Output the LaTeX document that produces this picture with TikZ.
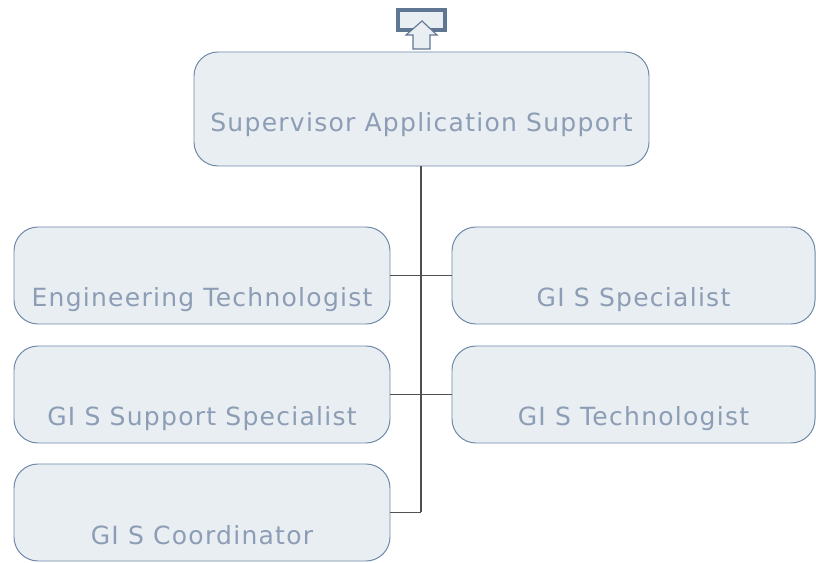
\documentclass[tikz,border=0pt]{standalone}
\usepackage{fontspec}
\setmainfont{DejaVu Sans}[LetterSpace=5]
\usepackage{tikz}
\usetikzlibrary{positioning}
\definecolor{boxfill}{HTML}{E9EEF2}
\definecolor{boxline}{HTML}{6E88A8}
\definecolor{boxtext}{HTML}{8C9DB5}
\definecolor{iconline}{HTML}{5F7693}
\definecolor{connline}{HTML}{505050}

\begin{document}
\begin{tikzpicture}[x=0.025cm,y=-0.025cm,>=stealth,
	role/.style={draw=boxline,fill=boxfill,line width=0.7pt,rounded corners=0.6cm,
		text=boxtext,inner xsep=0pt,inner ysep=0pt,
		minimum width=376*0.025cm,text height=80*0.025cm,text depth=17*0.025cm,
		font=\fontsize{17.8}{20}\selectfont},
	conn/.style={draw=connline,line width=0.9pt}]
	
	\useasboundingbox (0,0) rectangle (816,563);
	
	% expand icon
	\draw[iconline,fill=boxfill,line width=2.2pt] (398,10) rectangle (445,30);
	\draw[iconline,fill=boxfill,line width=0.8pt]
	(413,49) -- (413,35) -- (406,35) -- (422,21) -- (437,35) -- (430,35) -- (430,49) -- cycle;
	
	% supervisor
	\node[role,minimum width=455*0.025cm,text height=80*0.025cm,text depth=34*0.025cm]
	(sup) at (421.5,109) {Supervisor Application Support};
	
	% left column
	\node[role] (eng) at (202,275.5) {Engineering Technologist};
	\node[role] (gsup) at (202,394.5) {GI S Support Specialist};
	\node[role] (gcoord) at (202,512.5) {GI S Coordinator};
	
	% right column
	\node[role,minimum width=363*0.025cm] (gspec) at (633.5,275.5) {GI S Specialist};
	\node[role,minimum width=363*0.025cm] (gtech) at (633.5,394.5) {GI S Technologist};
	
	% connectors
	\coordinate (j1) at (421,275.5);
	\coordinate (j2) at (421,394.5);
	\coordinate (j3) at (421,512.5);
	\draw[conn] (sup.south -| j1) -- (j3);
	\draw[conn] (eng.east) -- (gspec.west);
	\draw[conn] (gsup.east) -- (gtech.west);
	\draw[conn] (gcoord.east) -- (j3);
	
\end{tikzpicture}
\end{document}
